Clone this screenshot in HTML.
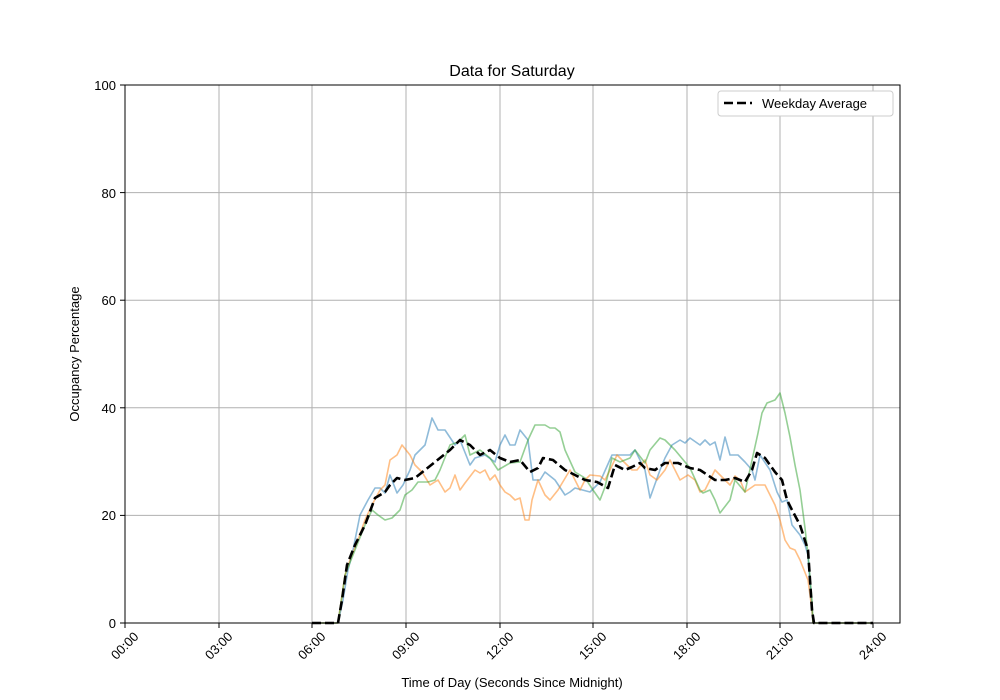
<!DOCTYPE html>
<html><head><style>body{margin:0;background:#fff}svg{display:block}text{font-family:"Liberation Sans","DejaVu Sans",sans-serif;fill:#000}</style></head>
<body>
<svg width="1000" height="700" viewBox="0 0 1000 700">
<g stroke="#b0b0b0" stroke-width="1">
<line x1="125" y1="85" x2="125" y2="623"/><line x1="219" y1="85" x2="219" y2="623"/><line x1="312" y1="85" x2="312" y2="623"/><line x1="406" y1="85" x2="406" y2="623"/><line x1="500" y1="85" x2="500" y2="623"/><line x1="593" y1="85" x2="593" y2="623"/><line x1="687" y1="85" x2="687" y2="623"/><line x1="780" y1="85" x2="780" y2="623"/><line x1="873" y1="85" x2="873" y2="623"/>
<line x1="125" y1="515.4" x2="900" y2="515.4"/><line x1="125" y1="407.8" x2="900" y2="407.8"/><line x1="125" y1="300.2" x2="900" y2="300.2"/><line x1="125" y1="192.6" x2="900" y2="192.6"/>
</g>
<g fill="none" stroke-width="1.6" stroke-linejoin="round">
<polyline stroke="#1f77b4" stroke-opacity="0.5" points="312,623 338,623 343,600 348,570 353,550 360,515 368,500 375,488 380,488 385,493 390,475 397,493 403,485 410,470 415,455 425,445 432,418 438,430 445,430 455,445 460,440 470,465 475,458 485,455 495,462 500,445 505,435 510,445 515,445 520,430 528,440 533,480 540,480 545,472 555,480 565,495 570,492 575,488 590,492 600,482 612,455 630,455 635,450 645,470 650,498 660,470 665,458 672,445 680,440 685,443 690,438 700,445 705,440 710,445 715,442 720,460 725,437 730,455 738,455 745,462 752,470 755,480 760,455 770,470 777,492 782,502 787,500 792,525 800,535 805,545 808,555 812,610 813,623 873,623"/>
<polyline stroke="#ff7f0e" stroke-opacity="0.5" points="312,623 338,623 345,575 350,560 358,540 365,520 372,505 380,490 385,485 390,460 397,455 402,445 410,455 415,465 422,472 430,485 438,480 445,492 450,488 455,475 460,490 465,483 475,470 480,473 485,470 490,480 495,475 500,485 505,492 510,495 515,500 520,498 525,520 529,520 532,500 538,480 545,495 550,500 558,490 570,470 575,480 580,490 585,480 590,475 600,476 605,480 610,470 617,455 625,463 632,470 637,470 645,460 650,475 657,480 665,470 670,460 680,480 688,475 695,480 700,492 705,490 715,470 730,485 735,476 740,480 745,492 755,485 765,485 775,505 780,520 785,540 790,548 795,550 800,560 808,580 812,610 813,623 873,623"/>
<polyline stroke="#2ca02c" stroke-opacity="0.5" points="312,623 338,623 345,575 355,550 365,525 372,510 378,515 385,520 392,518 400,510 405,495 412,490 418,482 428,482 435,480 440,470 450,445 458,442 465,435 470,455 480,450 490,458 498,470 510,463 520,462 528,440 535,425 545,425 550,428 555,428 560,432 565,450 575,472 585,478 593,490 600,500 605,487 612,458 620,462 630,458 635,450 645,463 650,450 660,438 665,440 675,450 685,462 690,468 700,490 703,493 710,490 715,500 720,513 730,500 735,480 745,492 758,433 762,413 767,403 775,400 780,393 785,413 790,437 795,465 800,490 805,528 808,555 812,600 813,623 873,623"/>
<polyline stroke="#000" stroke-width="2.6" stroke-dasharray="9,4" points="312,623 338,623 342,600 347,565 355,545 365,525 375,498 385,492 390,485 397,478 405,480 415,478 425,470 440,458 450,450 460,440 470,445 480,455 490,450 500,458 510,462 520,460 530,472 538,468 543,458 553,460 565,470 575,475 585,480 597,482 608,488 615,465 625,470 632,467 640,463 645,468 655,470 665,463 678,463 690,468 700,470 715,480 725,480 735,478 745,482 752,470 757,453 765,458 775,472 782,480 787,500 792,510 800,525 808,550 812,610 814,623 873,623"/>
</g>
<rect x="125" y="85" width="775" height="538" fill="none" stroke="#000" stroke-width="1"/>
<g stroke="#000"><line x1="125" y1="623" x2="125" y2="628"/><line x1="219" y1="623" x2="219" y2="628"/><line x1="312" y1="623" x2="312" y2="628"/><line x1="406" y1="623" x2="406" y2="628"/><line x1="500" y1="623" x2="500" y2="628"/><line x1="593" y1="623" x2="593" y2="628"/><line x1="687" y1="623" x2="687" y2="628"/><line x1="780" y1="623" x2="780" y2="628"/><line x1="873" y1="623" x2="873" y2="628"/>
<line x1="120" y1="623" x2="125" y2="623"/><line x1="120" y1="515.4" x2="125" y2="515.4"/><line x1="120" y1="407.8" x2="125" y2="407.8"/><line x1="120" y1="300.2" x2="125" y2="300.2"/><line x1="120" y1="192.6" x2="125" y2="192.6"/><line x1="120" y1="85" x2="125" y2="85"/></g>
<g font-size="13" text-anchor="end">
<text x="116" y="628">0</text><text x="116" y="520">20</text><text x="116" y="413">40</text><text x="116" y="305">60</text><text x="116" y="198">80</text><text x="116" y="90">100</text>
</g>
<g font-size="13" text-anchor="middle">
<text transform="translate(125,646) rotate(-45)" y="4">00:00</text><text transform="translate(219,646) rotate(-45)" y="4">03:00</text><text transform="translate(312,646) rotate(-45)" y="4">06:00</text><text transform="translate(406,646) rotate(-45)" y="4">09:00</text><text transform="translate(500,646) rotate(-45)" y="4">12:00</text><text transform="translate(593,646) rotate(-45)" y="4">15:00</text><text transform="translate(687,646) rotate(-45)" y="4">18:00</text><text transform="translate(780,646) rotate(-45)" y="4">21:00</text><text transform="translate(873,646) rotate(-45)" y="4">24:00</text>
</g>
<text x="512" y="76" font-size="16" text-anchor="middle">Data for Saturday</text>
<text x="512" y="687" font-size="13" text-anchor="middle">Time of Day (Seconds Since Midnight)</text>
<text transform="translate(79,354) rotate(-90)" font-size="13" text-anchor="middle">Occupancy Percentage</text>
<rect x="718" y="91" width="175" height="25" rx="3" fill="#fff" stroke="#ccc"/>
<line x1="724" y1="103" x2="752" y2="103" stroke="#000" stroke-width="2.6" stroke-dasharray="9,4"/>
<text x="762" y="108" font-size="13">Weekday Average</text>
</svg>
</body></html>
